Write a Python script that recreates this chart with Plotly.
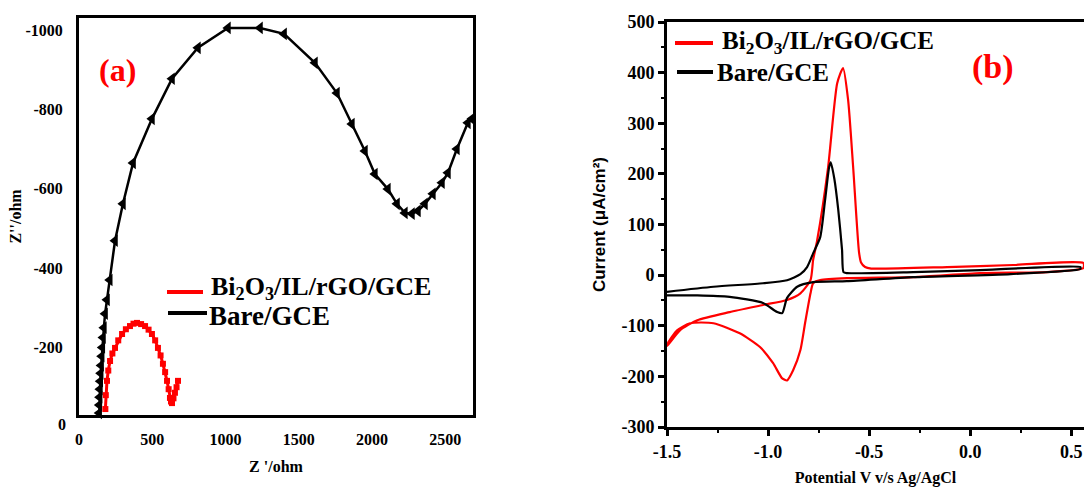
import plotly.graph_objects as go

W, H = 1084, 490

# ---------------- (a) Nyquist plots ----------------
bare_zre = [137, 138, 139, 141, 143, 145, 148, 151, 155, 159, 164, 170, 178, 191, 210,
            246, 300, 369, 498, 635, 812, 1017, 1236, 1400, 1611, 1761, 1863, 1952, 2020,
            2109, 2171, 2225, 2273, 2314, 2362, 2416, 2478, 2519, 2580, 2655, 2683]
bare_zim = [-15, -35, -55, -75, -95, -115, -135, -155, -178, -200, -225, -250, -285, -320, -370,
            -469, -562, -665, -776, -877, -955, -1005, -1005, -990, -917, -841, -763, -695, -637,
            -599, -562, -539, -537, -544, -562, -587, -615, -640, -700, -766, -776]

mod_zre = [180, 183, 191, 200, 212, 228, 246, 268, 294, 320, 348, 372, 396, 424, 451, 475,
           498, 520, 539, 557, 573, 588, 601, 612, 621, 628, 635, 645, 655, 666, 676]
mod_zim = [-45, -80, -116, -142, -166, -185, -199, -218, -234, -246, -254, -260, -262, -259,
           -254, -245, -234, -218, -199, -180, -159, -138, -116, -95, -73, -64, -60, -72, -86,
           -100, -116]

zre_ticks = [0, 500, 1000, 1500, 2000, 2500]
zim_ticks = [-1000, -800, -600, -400, -200]
zim_tick_text = ["-1000", "-800", "-600", "-400", "-200"]

# ---------------- (b) Cyclic voltammograms ----------------
cv_mod_e = [-1.5, -1.436, -1.35, -1.19, -1.025, -0.906, -0.84, -0.79, -0.777, -0.757, -0.703,
            -0.658, -0.629, -0.604, -0.579, -0.55, -0.54, -0.52, -0.49, -0.114, 0.213, 0.56,
            0.56, 0.38, 0.05, -0.282, -0.61, -0.742, -0.777, -0.79, -0.817, -0.84, -0.876,
            -0.906, -0.93, -0.975, -1.04, -1.14, -1.27, -1.386, -1.45, -1.495, -1.5]
cv_mod_i = [-140, -109, -89, -73, -59, -49, -36, -10, 30, 69, 213,
            379, 409, 346, 213, 45, 25, 16, 13, 16, 20, 24,
            14, 6, 4, -4, -6, -10, -16, -36, -95, -148, -188,
            -208, -204, -174, -142, -115, -95, -95, -109, -134, -140]

cv_bare_e = [-1.5, -1.27, -1.025, -0.906, -0.84, -0.807, -0.777, -0.742, -0.718, -0.698, -0.69,
             -0.672, -0.653, -0.634, -0.627, -0.61, -0.282, 0.05, 0.545,
             0.545, 0.2, -0.282, -0.61, -0.777, -0.856, -0.906, -0.93, -0.955, -1.025, -1.19,
             -1.35, -1.5]
cv_bare_i = [-33, -23, -16, -10, 2, 16, 43, 75, 148, 213, 223,
             190, 130, 50, 6, 4, 6, 10, 16,
             12, 2, -4, -12, -14, -23, -45, -75, -73, -55, -43,
             -40, -40]

e_ticks = [-1.5, -1.0, -0.5, 0.0, 0.5]
e_tick_text = ["-1.5", "-1.0", "-0.5", "0.0", "0.5"]
i_ticks = [-300, -200, -100, 0, 100, 200, 300, 400, 500]
i_tick_text = ["-300", "-200", "-100", "0", "100", "200", "300", "400", "500"]

RED = "#ff0000"
BLACK = "#000000"
SERIF = "Liberation Serif"
SANS = "Liberation Sans"

fig = go.Figure()

# Nyquist: bare electrode with left-triangle symbols
fig.add_trace(go.Scatter(
    x=bare_zre, y=bare_zim, mode="lines+markers",
    line=dict(color=BLACK, width=2.5),
    marker=dict(symbol="triangle-left", size=11, color=BLACK),
    cliponaxis=False, showlegend=False, xaxis="x", yaxis="y"))
# Nyquist: modified electrode with small squares
fig.add_trace(go.Scatter(
    x=mod_zre, y=mod_zim, mode="lines+markers",
    line=dict(color=RED, width=3),
    marker=dict(symbol="square", size=6, color=RED),
    cliponaxis=False, showlegend=False, xaxis="x", yaxis="y"))

# CV curves
fig.add_trace(go.Scatter(
    x=cv_mod_e, y=cv_mod_i, mode="lines", line=dict(color=RED, width=2.2, shape="spline", smoothing=0.6),
    showlegend=False, xaxis="x2", yaxis="y2"))
fig.add_trace(go.Scatter(
    x=cv_bare_e, y=cv_bare_i, mode="lines", line=dict(color=BLACK, width=2.2, shape="spline", smoothing=0.6),
    showlegend=False, xaxis="x2", yaxis="y2"))

tick_font = dict(family=SERIF, size=16, color=BLACK, weight="bold")
tick_font_b = dict(family=SERIF, size=18, color=BLACK, weight="bold")

fig.update_layout(
    width=W, height=H,
    margin=dict(l=0, r=0, t=0, b=0, autoexpand=False),
    paper_bgcolor="white", plot_bgcolor="white",
    showlegend=False,
    xaxis=dict(
        domain=[79 / W, 473 / W], range=[0, 2690], anchor="y", automargin=False,
        tickvals=zre_ticks, ticks="", tickfont=tick_font,
        showline=True, linewidth=3, linecolor=BLACK, mirror=True,
        showgrid=False, zeroline=False, ticklabelstandoff=8,
        title=dict(text="Z '/ohm", font=dict(family=SERIF, size=16, color=BLACK, weight="bold"), standoff=14)),
    yaxis=dict(
        domain=[1 - 415 / H, 1 - 18 / H], range=[-30, -1030], anchor="x", automargin=False,
        tickvals=zim_ticks, ticktext=zim_tick_text, ticks="", tickfont=tick_font,
        showline=True, linewidth=3, linecolor=BLACK, mirror=True,
        showgrid=False, zeroline=False, ticklabelstandoff=10,
        title=dict(text="Z''/ohm", font=dict(family=SERIF, size=16, color=BLACK, weight="bold"), standoff=0)),
    xaxis2=dict(
        domain=[667 / W, 1.0], range=[-1.5, 0.563], anchor="y2", automargin=False,
        tickvals=e_ticks, ticktext=e_tick_text, ticks="outside", ticklen=6, tickwidth=2.5,
        tickcolor=BLACK, tickfont=tick_font_b,
        minor=dict(dtick=0.25, tick0=-1.5, ticks="outside", ticklen=3, tickwidth=2, tickcolor=BLACK),
        showline=True, linewidth=3, linecolor=BLACK, mirror=True,
        showgrid=False, zeroline=False,
        title=dict(text="Potential V v/s Ag/AgCl", font=dict(family=SERIF, size=16, color=BLACK, weight="bold"), standoff=12)),
    yaxis2=dict(
        domain=[1 - 427 / H, 1 - 22 / H], range=[-300, 500], anchor="x2", automargin=False,
        tickvals=i_ticks, ticktext=i_tick_text, ticks="outside", ticklen=6, tickwidth=2.5,
        tickcolor=BLACK, tickfont=tick_font_b,
        minor=dict(dtick=50, tick0=0, ticks="outside", ticklen=3, tickwidth=2, tickcolor=BLACK),
        showline=True, linewidth=3, linecolor=BLACK, mirror=False,
        showgrid=False, zeroline=False,
        title=dict(text="Current (μA/cm²)", font=dict(family=SANS, size=17, color=BLACK, weight="bold"), standoff=12)),
)


def px(xp):
    return xp / W


def py(yp):
    return 1 - yp / H


annotations = [
    dict(text="(a)", x=px(117), y=py(70), font=dict(family=SERIF, size=32, color=RED, weight="bold")),
    dict(text="(b)", x=px(993), y=py(67), font=dict(family=SERIF, size=34, color=RED, weight="bold")),
    dict(text="0", x=px(68), y=py(424), xanchor="right",
         font=dict(family=SERIF, size=16, color=BLACK, weight="bold")),
    dict(text="Bi<sub>2</sub>O<sub>3</sub>/IL/rGO/GCE", x=px(209), y=py(288), xanchor="left",
         font=dict(family=SERIF, size=26, color=BLACK, weight="bold")),
    dict(text="Bare/GCE", x=px(207), y=py(316), xanchor="left",
         font=dict(family=SERIF, size=27, color=BLACK, weight="bold")),
    dict(text="Bi<sub>2</sub>O<sub>3</sub>/IL/rGO/GCE", x=px(720), y=py(42), xanchor="left",
         font=dict(family=SERIF, size=25, color=BLACK, weight="bold")),
    dict(text="Bare/GCE", x=px(715), y=py(72), xanchor="left",
         font=dict(family=SERIF, size=25, color=BLACK, weight="bold")),
]
for a in annotations:
    a.update(xref="paper", yref="paper", showarrow=False)
    a.setdefault("xanchor", "center")
    a.setdefault("yanchor", "middle")
fig.update_layout(annotations=annotations)

shapes = [
    dict(x0=px(167), x1=px(203), y0=py(292), y1=py(292), line=dict(color=RED, width=4)),
    dict(x0=px(168), x1=px(207), y0=py(313), y1=py(313), line=dict(color=BLACK, width=4)),
    dict(x0=px(675), x1=px(713), y0=py(43), y1=py(43), line=dict(color=RED, width=4)),
    dict(x0=px(677), x1=px(713), y0=py(72), y1=py(72), line=dict(color=BLACK, width=4)),
]
for s in shapes:
    s.update(type="line", xref="paper", yref="paper")
fig.update_layout(shapes=shapes)

fig.write_html("out.html")
